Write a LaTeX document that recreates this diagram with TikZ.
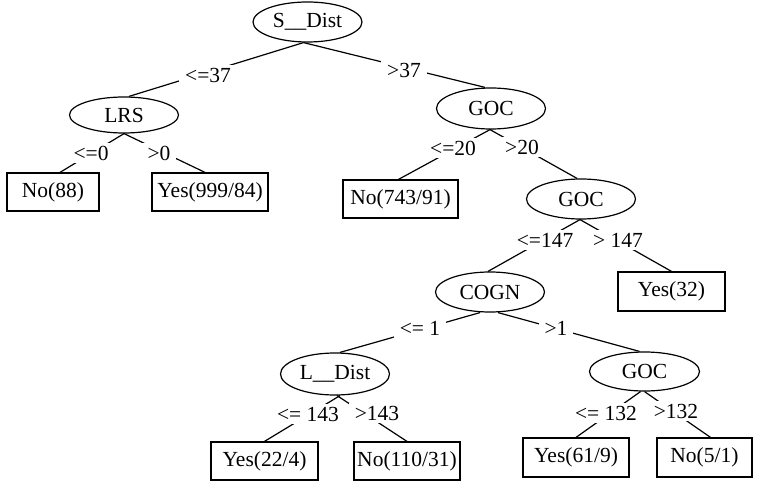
\documentclass[tikz,border=0pt]{standalone}
\usepackage{fontspec}
\setmainfont{Liberation Serif}
\usetikzlibrary{shapes.geometric}
\begin{document}
\begin{tikzpicture}[x=1bp,y=-1bp,
  every node/.style={font=\fontsize{21.5bp}{25bp}\selectfont},
  test/.style={ellipse,draw,line width=1.2bp,inner sep=0pt,minimum width=109bp,minimum height=40bp},
  leaf/.style={rectangle,draw,line width=1.2bp,inner sep=0pt,minimum height=38bp},
  cond/.style={fill=white,inner xsep=6bp,inner ysep=3bp},
  branch/.style={line width=1.2bp}]
\useasboundingbox (0,0) rectangle (758,481);

% attribute tests
\node[test] (sdist) at (307.5,22) {S\_\_Dist};
\node[test,minimum height=36bp] (lrs) at (124,115) {LRS};
\node[test,minimum height=41bp] (goca) at (491,108.5) {GOC};
\node[test] (gocb) at (581,199) {GOC};
\node[test] (cogn) at (490,292) {COGN};
\node[test,minimum height=42bp] (ldist) at (335,374) {L\_\_Dist};
\node[test,minimum width=110bp,minimum height=39bp] (gocc) at (644.5,371.5) {GOC};

% leaves
\node[leaf,minimum width=92bp] (no88) at (53,192) {No(88)};
\node[leaf,minimum width=116bp] (yes999) at (210,192) {Yes(999/84)};
\node[leaf,minimum width=115bp] (no743) at (400.5,199) {No(743/91)};
\node[leaf,minimum width=107bp,minimum height=39bp] (yes32) at (671.5,291.5) {Yes(32)};
\node[leaf,minimum width=107bp] (yes22) at (264.5,461) {Yes(22/4)};
\node[leaf,minimum width=106bp] (no110) at (407,461) {No(110/31)};
\node[leaf,minimum width=106bp,minimum height=39bp] (yes61) at (576,457.5) {Yes(61/9)};
\node[leaf,minimum width=95bp,minimum height=39bp] (no5) at (704.5,457.5) {No(5/1)};

% branches
\draw[branch] ([xshift=-4bp]sdist.south) -- ([xshift=5bp]lrs.north);
\draw[branch] ([xshift=-4bp]sdist.south) -- ([xshift=-6bp]goca.north);
\draw[branch] (lrs.south) -- ([xshift=7bp]no88.north);
\draw[branch] (lrs.south) -- ([xshift=-5bp]yes999.north);
\draw[branch] ([xshift=-1bp]goca.south) -- ([xshift=-2bp]no743.north);
\draw[branch] ([xshift=-1bp]goca.south) -- ([xshift=-4bp]gocb.north);
\draw[branch] ([xshift=-1bp]gocb.south) -- ([xshift=-2bp]cogn.north);
\draw[branch] ([xshift=-1bp]gocb.south) -- (yes32.north);
\draw[branch] ([xshift=-10bp]cogn.south) -- ([xshift=5bp]ldist.north);
\draw[branch] ([xshift=8bp]cogn.south) -- ([xshift=-5bp]gocc.north);
\draw[branch] ([xshift=5bp]ldist.south) -- (yes22.north);
\draw[branch] ([xshift=2bp]ldist.south) -- (no110.north);
\draw[branch] ([xshift=-4bp]gocc.south) -- (yes61.north);
\draw[branch] (gocc.south) -- ([xshift=6bp]no5.north);

% branch conditions
\node[cond] (c1) at (208,75) {<=37};
\node[cond] (c2) at (404,70) {>37};
\node[cond] (c3) at (91,153) {<=0};
\node[cond] (c4) at (159,153) {>0};
\node[cond] (c5) at (453,148) {<=20};
\node[cond] (c6) at (522,147) {>20};
\node[cond] (c7) at (545,240) {<=147};
\node[cond] (c8) at (618,240) {> 147};
\node[cond] (c9) at (420,328) {<= 1};
\node[cond] (c10) at (556,328) {>1};
\node[cond] (c11) at (308,414) {<= 143};
\node[cond] (c12) at (377,413) {>143};
\node[cond] (c13) at (606,413) {<= 132};
\node[cond] (c14) at (676,411) {>132};
\end{tikzpicture}
\end{document}
